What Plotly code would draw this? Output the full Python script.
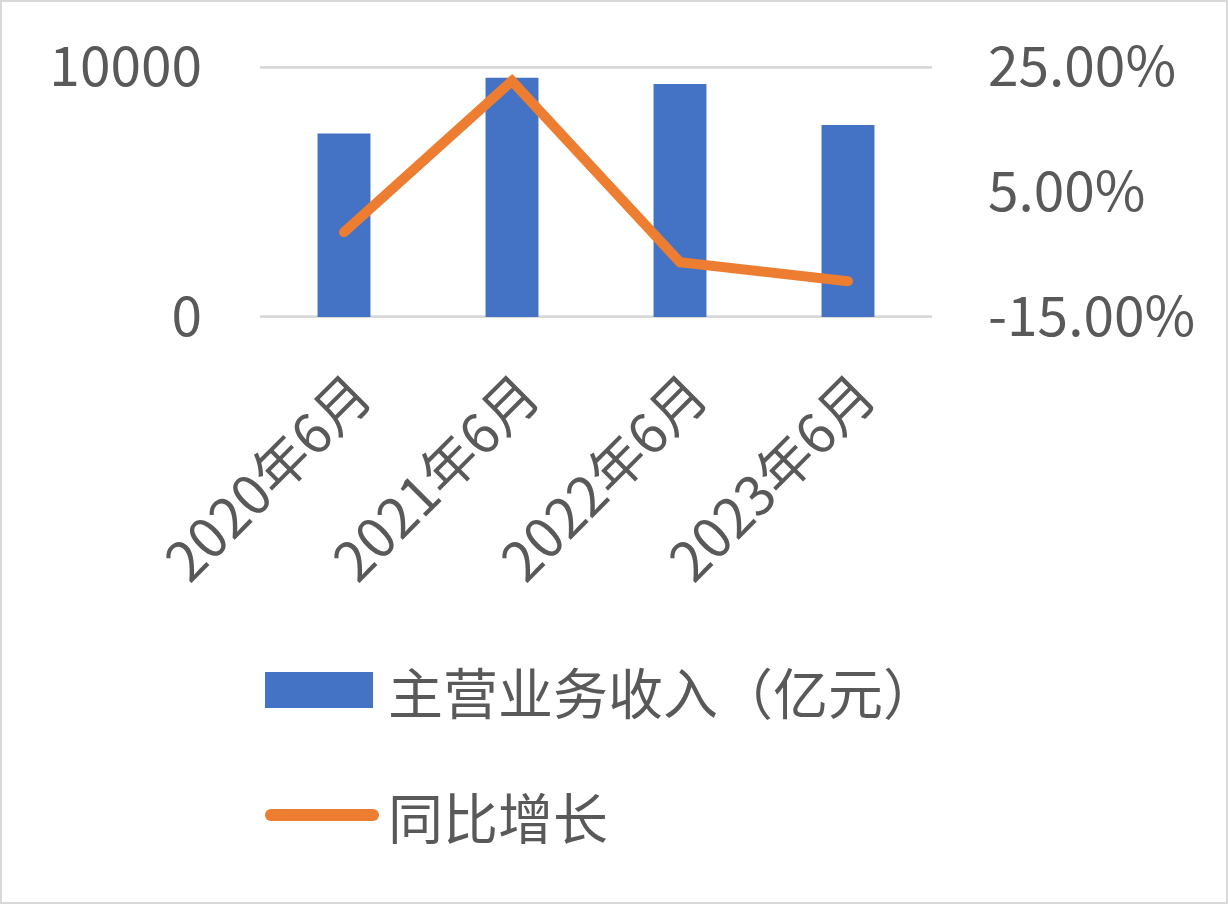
import plotly.graph_objects as go

months = ["2020年6月", "2021年6月", "2022年6月", "2023年6月"]
revenue = [7345, 9572, 9319, 7677]          # 主营业务收入（亿元）
growth = [-0.0143, 0.2276, -0.0624, -0.0928]  # 同比增长
left_ticks = [0, 10000]
left_text = ["0", "10000"]
right_ticks = [-0.15, 0.05, 0.25]
right_text = ["-15.00%", "5.00%", "25.00%"]

W, H = 1228, 904
L, R, T, B = 260, 296, 66, 586
pw, ph = W - L - R, H - T - B
pad = 40  # tiny range padding so the edge gridlines fit inside

def px(x):
    return (x - L) / pw

def py(y):
    return (H - B - y) / ph

font = "Noto Sans CJK SC, Noto Sans, sans-serif"
fs = 55
grey = "#595959"
blue = "#4472C4"
orange = "#ED7D31"
gridc = "#D9D9D9"

fig = go.Figure()
fig.add_trace(go.Bar(x=months, y=revenue, name="主营业务收入（亿元）",
                     marker=dict(color=blue, line=dict(width=0)),
                     width=0.315, showlegend=False))
fig.add_trace(go.Scatter(x=months, y=growth, name="同比增长", yaxis="y2",
                         mode="lines+markers",
                         line=dict(color=orange, width=10),
                         marker=dict(color=orange, size=10),
                         showlegend=False))

# gridlines at the left-axis ticks
shapes = [dict(type="line", xref="paper", x0=0, x1=1, yref="y", y0=v, y1=v,
               line=dict(color=gridc, width=3.5), layer="below")
          for v in left_ticks]

# hand-made legend, sized like the original
shapes += [
    dict(type="rect", xref="paper", yref="paper", x0=px(265), x1=px(373),
         y0=py(708), y1=py(672), fillcolor=blue, line=dict(width=0)),
    dict(type="line", xref="paper", yref="paper", x0=px(271), x1=px(373),
         y0=py(815), y1=py(815), line=dict(color=orange, width=12)),
    dict(type="circle", xref="paper", yref="paper", x0=px(265), x1=px(277),
         y0=py(821), y1=py(809), fillcolor=orange, line=dict(width=0)),
    dict(type="circle", xref="paper", yref="paper", x0=px(367), x1=px(379),
         y0=py(821), y1=py(809), fillcolor=orange, line=dict(width=0)),
    # outer frame
    dict(type="rect", xref="paper", yref="paper", x0=px(1), x1=px(W - 1),
         y0=py(H - 1), y1=py(1), line=dict(color=gridc, width=2),
         layer="below"),
]
annotations = [
    dict(text="主营业务收入（亿元）", xref="paper", yref="paper", x=px(386),
         y=py(690), xanchor="left", yanchor="middle", showarrow=False,
         font=dict(size=fs, color=grey, family=font)),
    dict(text="同比增长", xref="paper", yref="paper", x=px(386),
         y=py(815), xanchor="left", yanchor="middle", showarrow=False,
         font=dict(size=fs, color=grey, family=font)),
]

fig.update_layout(
    width=W, height=H,
    margin=dict(l=L, r=R, t=T, b=B, pad=0),
    paper_bgcolor="white", plot_bgcolor="white",
    font=dict(family=font, size=fs, color=grey),
    xaxis=dict(tickangle=-45, showgrid=False, showline=False, ticks="",
               ticklabelstandoff=33, ticklabelshift=12,
               tickfont=dict(size=fs, color=grey)),
    yaxis=dict(range=[-pad, 10000 + pad], tickvals=left_ticks,
               ticktext=left_text, showgrid=False, zeroline=False,
               ticklabelstandoff=57, tickfont=dict(size=fs, color=grey)),
    yaxis2=dict(range=[-0.15 - pad * 4e-5, 0.25 + pad * 4e-5],
                tickvals=right_ticks, ticktext=right_text,
                overlaying="y", side="right",
                showgrid=False, zeroline=False, ticklabelstandoff=55,
                tickfont=dict(size=fs, color=grey)),
    shapes=shapes, annotations=annotations,
)

fig.write_html("out.html", config={"displayModeBar": False},
               post_script="document.body.style.margin='0px';")
